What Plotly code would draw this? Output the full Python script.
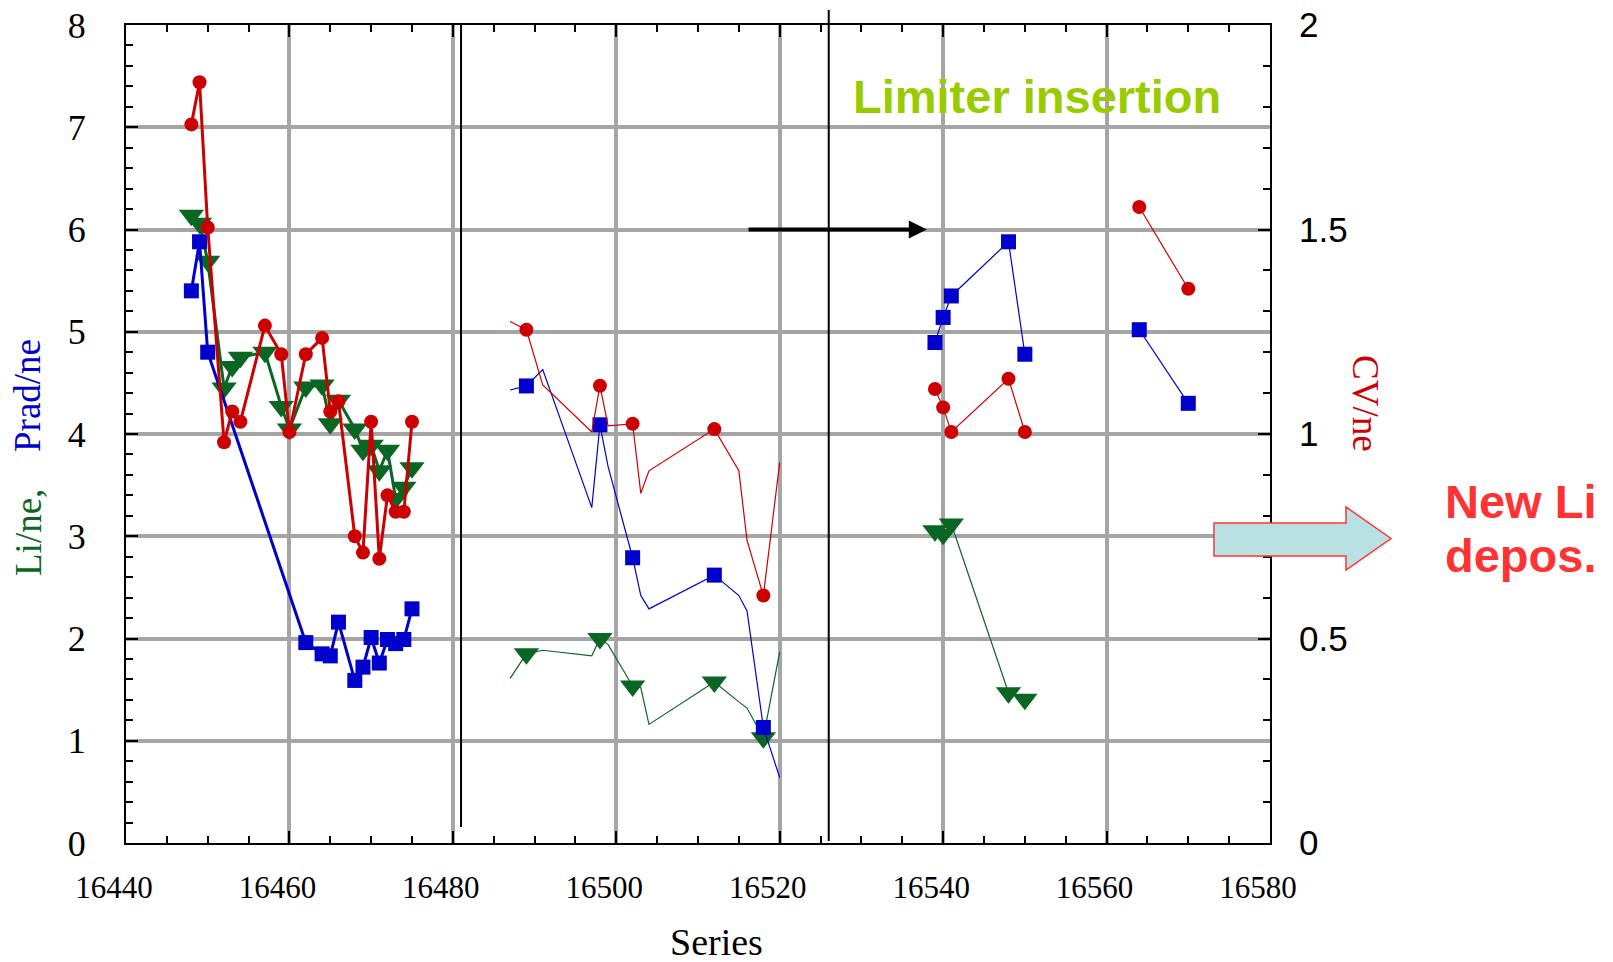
import plotly.graph_objects as go

# ---------------- data ----------------
# Shots 16448-16475 (first campaign, thick lines)
shot_a = [16448, 16449, 16450, 16452, 16453, 16454, 16457, 16459, 16460, 16462, 16464,
          16465, 16466, 16468, 16469, 16470, 16471, 16472, 16473, 16474, 16475]
li_a = [6.14, 6.06, 5.69, 4.45, 4.66, 4.75, 4.80, 4.27, 4.05, 4.46, 4.48,
        4.10, 4.33, 4.05, 3.84, 3.89, 3.64, 3.84, 3.37, 3.48, 3.67]
prad_a = [5.40, 5.88, 4.80, None, None, None, None, None, None, 1.96, 1.85,
          1.83, 2.16, 1.59, 1.72, 2.01, 1.76, 1.99, 1.95, 1.99, 2.29]
cv_a = [1.757, 1.86, 1.505, 0.98, 1.055, 1.03, 1.265, 1.195, 1.005, 1.195, 1.235,
        1.055, 1.08, 0.75, 0.71, 1.03, 0.695, 0.85, 0.81, 0.81, 1.03]

# Shots 16487-16520 (thin lines, symbols on measured shots only)
shot_b = [16487, 16489, 16491, 16497, 16498, 16499, 16502, 16503, 16504, 16512,
          16515, 16516, 16518, 16520]
marked_b = [False, True, False, False, True, False, True, False, False, True,
            False, False, True, False]
li_b = [1.61, 1.85, 1.885, 1.83, 2.00, 1.94, 1.535, 1.52, 1.16, 1.575,
        1.38, 1.32, 1.03, 1.87]
prad_b = [4.43, 4.47, 4.63, 3.28, 4.09, 3.68, 2.79, 2.42, 2.29, 2.62,
          2.42, 2.27, 1.13, 0.64]
cv_b = [1.275, 1.255, 1.12, 1.005, 1.118, 1.02, 1.025, 0.855, 0.91, 1.012,
        0.91, 0.74, 0.605, 0.93]

# Shots after limiter insertion
shot_c = [16539, 16540, 16541, 16548, 16550]
li_c = [3.055, 3.02, 3.12, 1.47, 1.405]
prad_c = [4.895, 5.14, 5.35, 5.88, 4.78]
cv_c = [1.11, 1.065, 1.005, 1.135, 1.005]

shot_d = [16564, 16570]
prad_d = [5.02, 4.30]
cv_d = [1.555, 1.355]

# vertical separators and limiter arrow (shot numbers / Li-axis value)
separator_shots = [16481, 16526]
limiter_arrow = (16516, 16538, 6.0)

# ---------------- styling ----------------
GREEN = "#0b6623"
BLUE = "#0000cc"
RED = "#cc0000"
SERIF = "Liberation Serif"
SANS = "Liberation Sans"

W, H = 1613, 962
ML, MR, MT, MB = 126, 343, 25, 119
PW, PH = W - ML - MR, H - MT - MB


def px(x):
    return (x - ML) / PW


def py(y):
    return (H - MB - y) / PH


SYM = {"li": ("triangle-down", 22, GREEN),
       "prad": ("square", 15, BLUE),
       "cv": ("circle", 14, RED)}

fig = go.Figure()


def add_series(x, y, key, width, sizes=None, axis="y", gaps=False):
    sym, size, color = SYM[key]
    fig.add_trace(go.Scatter(
        x=x, y=y, mode="lines+markers", yaxis=axis,
        connectgaps=gaps,
        line=dict(color=color, width=width),
        marker=dict(symbol=sym, size=sizes if sizes is not None else size,
                    color=color, opacity=1, line=dict(width=0)),
        showlegend=False, hoverinfo="x+y"))


# thick first campaign
add_series(shot_a, li_a, "li", 3)
add_series(shot_a, prad_a, "prad", 3, gaps=True)
add_series(shot_a, cv_a, "cv", 3, axis="y2")

# thin campaigns: middle block, then post-limiter blocks separated by gaps
for key, yb, yc, yd, axis in [("li", li_b, li_c, None, "y"),
                              ("prad", prad_b, prad_c, prad_d, "y"),
                              ("cv", cv_b, cv_c, cv_d, "y2")]:
    size = SYM[key][1]
    sizes = [size if m else 0 for m in marked_b] + [0] + [size] * len(shot_c)
    xs = shot_b + [None] + shot_c
    ys = yb + [None] + yc
    if yd is not None:
        xs = xs + [None] + shot_d
        ys = ys + [None] + yd
        sizes = sizes + [0] + [size] * len(shot_d)
    add_series(xs, ys, key, 1.2, sizes=sizes, axis=axis)

axis_common = dict(
    ticks="inside", ticklen=12, tickwidth=2, tickcolor="black",
    showline=True, linecolor="black", linewidth=2, zeroline=False,
    automargin=False,
)

fig.update_layout(
    width=W, height=H,
    margin=dict(l=ML, r=MR, t=MT, b=MB, autoexpand=False),
    paper_bgcolor="white", plot_bgcolor="white",
    xaxis=dict(
        range=[16440, 16580], tick0=16440, dtick=20, tickformat="d", mirror="ticks",
        showgrid=True, gridcolor="#a5a5a5", gridwidth=4,
        minor=dict(dtick=5, ticks="inside", ticklen=7, tickwidth=2,
                   tickcolor="black", showgrid=False),
        tickfont=dict(family=SERIF, size=31, color="black"),
        ticklabelshift=-12, ticklabelstandoff=16,
        **axis_common),
    yaxis=dict(
        range=[0, 8], dtick=1,
        showgrid=True, gridcolor="#a5a5a5", gridwidth=4,
        minor=dict(dtick=0.2, ticks="inside", ticklen=7, tickwidth=2,
                   tickcolor="black", showgrid=False),
        tickfont=dict(family=SERIF, size=36, color="black"),
        ticklabelstandoff=31,
        **axis_common),
    yaxis2=dict(
        range=[0, 2], dtick=0.5, overlaying="y", side="right", showgrid=False,
        minor=dict(dtick=0.1, ticks="inside", ticklen=7, tickwidth=2,
                   tickcolor="black", showgrid=False),
        tickfont=dict(family=SANS, size=35, color="black"),
        ticklabelstandoff=20,
        **axis_common),
)

# separators
fig.add_shape(type="line", xref="x", yref="paper",
              x0=separator_shots[0], x1=separator_shots[0], y0=py(827), y1=1,
              line=dict(color="black", width=2), layer="above")
fig.add_shape(type="line", xref="x", yref="paper",
              x0=separator_shots[1], x1=separator_shots[1], y0=py(841), y1=py(10),
              line=dict(color="black", width=2), layer="above")

# limiter arrow
x_from, x_to, y_arrow = limiter_arrow
fig.add_annotation(x=x_to, y=y_arrow, ax=x_from, ay=y_arrow, xref="x", yref="y",
                   axref="x", ayref="y", text="", showarrow=True,
                   arrowhead=2, arrowsize=0.9, arrowwidth=4, arrowcolor="black",
                   standoff=0)

# block arrow pointing to the new deposition
tail, base, tip = 1214, 1346, 1391
s_top, s_bot, h_top, h_bot, mid = 523, 556, 507, 570, 538.5
path = (f"M{px(tail)},{py(s_top)} L{px(base)},{py(s_top)} L{px(base)},{py(h_top)} "
        f"L{px(tip)},{py(mid)} L{px(base)},{py(h_bot)} L{px(base)},{py(s_bot)} "
        f"L{px(tail)},{py(s_bot)} Z")
fig.add_shape(type="path", xref="paper", yref="paper", path=path,
              fillcolor="#b9e0e3", line=dict(color="#ff3333", width=1.5), layer="above")

annotations = [
    dict(text="<b>Limiter insertion</b>", x=px(1037), y=py(97), xanchor="center",
         yanchor="middle", font=dict(family=SANS, size=47, color="#99cc00")),
    dict(text="<b>New Li</b>", x=px(1443), y=py(501), xanchor="left",
         yanchor="middle", font=dict(family=SANS, size=47, color="#ff3333")),
    dict(text="<b>depos.</b>", x=px(1443), y=py(555), xanchor="left",
         yanchor="middle", font=dict(family=SANS, size=47, color="#ff3333")),
    dict(text="Prad/ne", x=px(28), y=py(396), textangle=-90, xanchor="center",
         yanchor="middle", font=dict(family=SERIF, size=37, color=BLUE)),
    dict(text="Li/ne,", x=px(28), y=py(533), textangle=-90, xanchor="center",
         yanchor="middle", font=dict(family=SERIF, size=37, color=GREEN)),
    dict(text="CV/ne", x=px(1365), y=py(403), textangle=90, xanchor="center",
         yanchor="middle", font=dict(family=SERIF, size=37, color=RED)),
    dict(text="Series", x=px(716), y=py(942), xanchor="center",
         yanchor="middle", font=dict(family=SERIF, size=38, color="black")),
]
for a in annotations:
    fig.add_annotation(xref="paper", yref="paper", showarrow=False, **a)

fig.write_html("out.html")
